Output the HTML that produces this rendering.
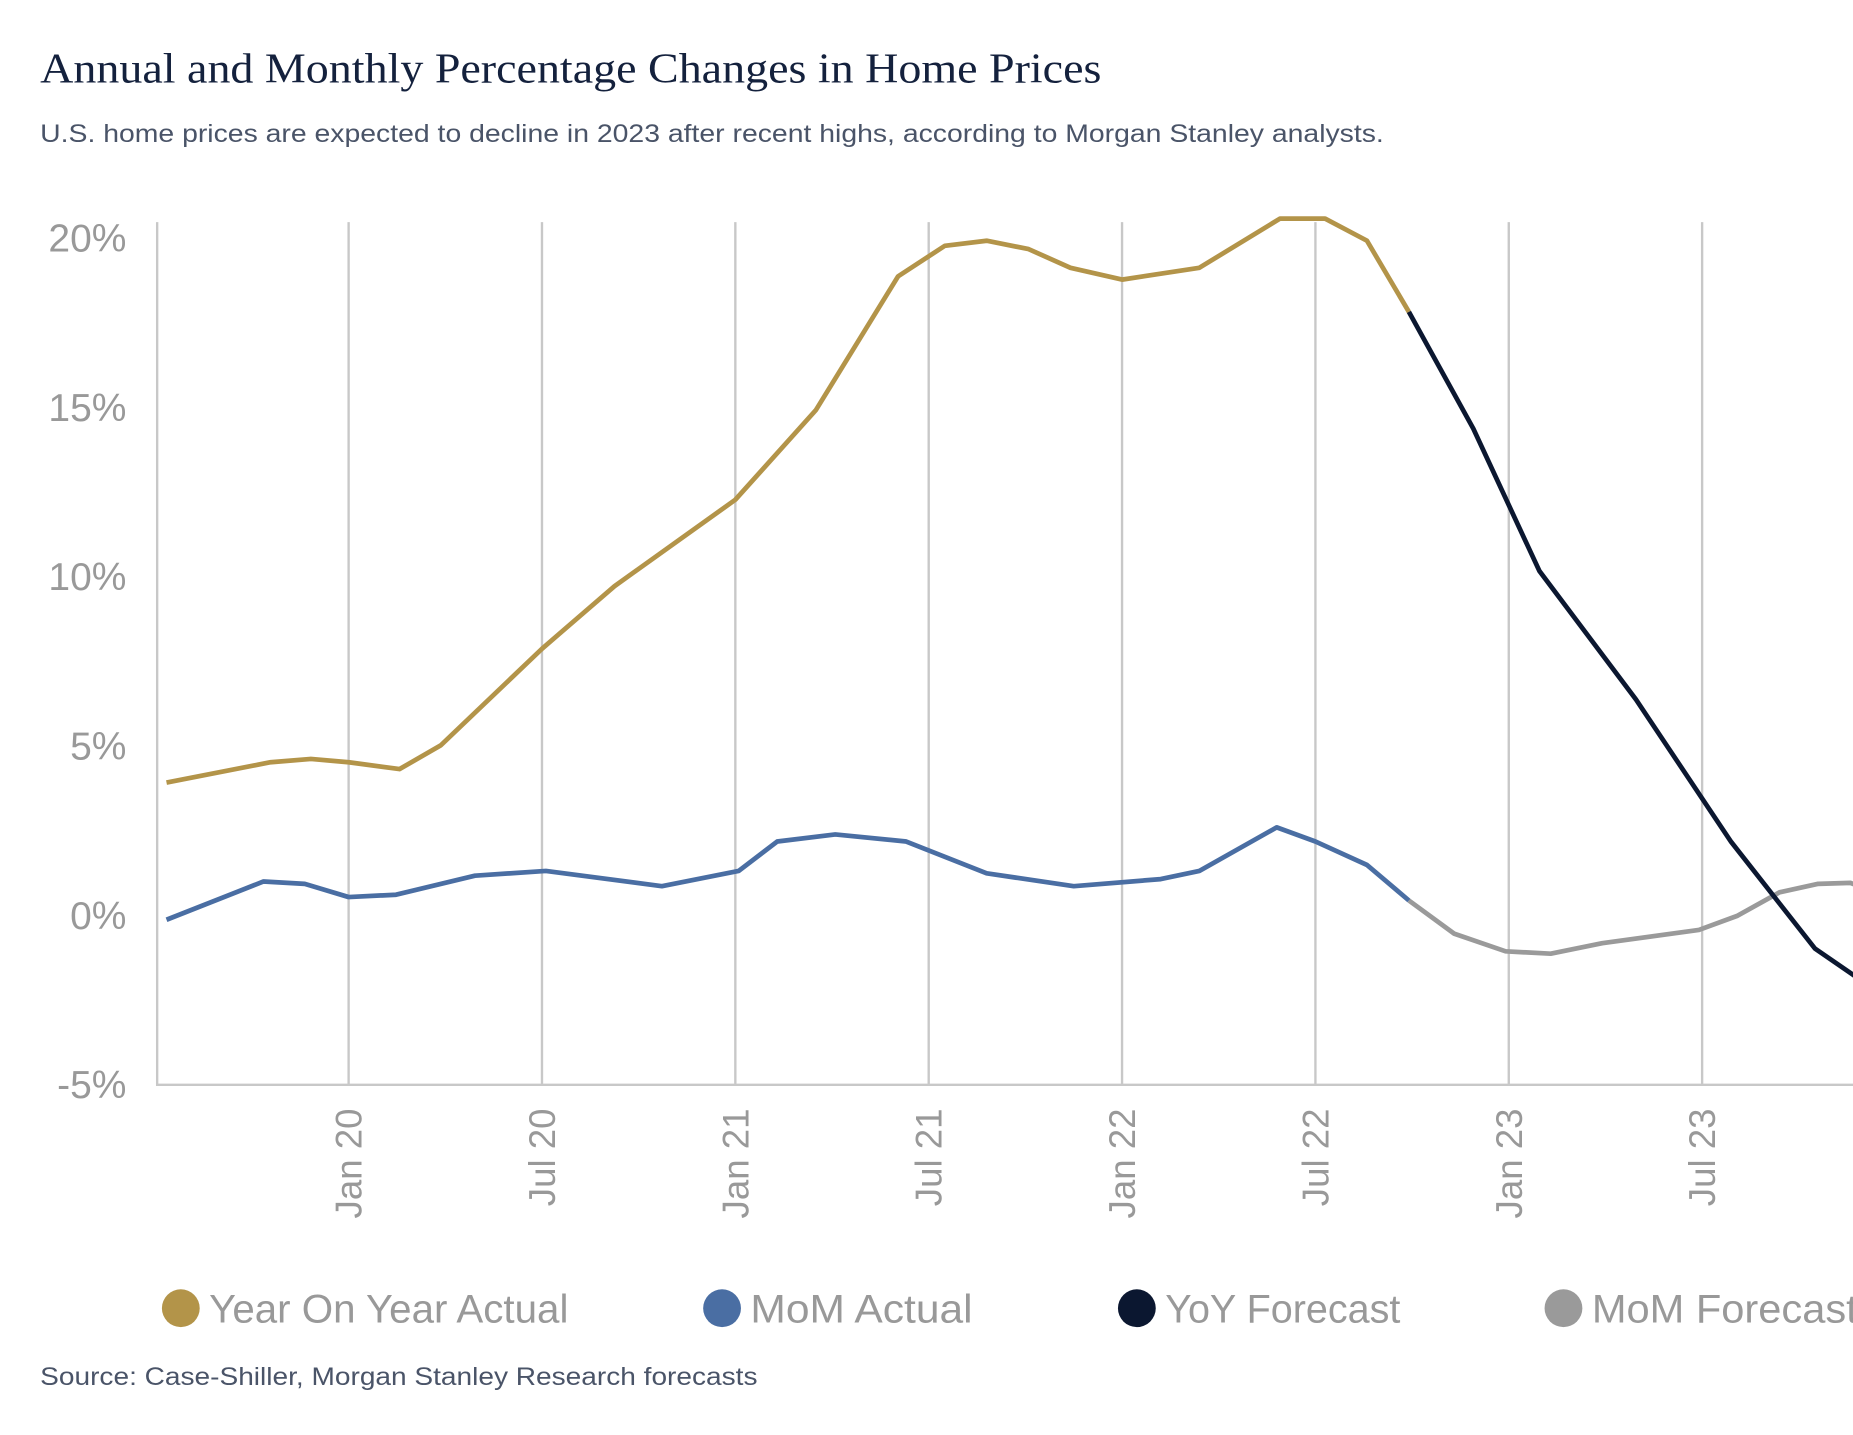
<!DOCTYPE html>
<html><head><meta charset="utf-8"><style>
html,body{margin:0;padding:0;background:#fff;overflow:hidden}
svg{display:block}
</style></head><body>
<svg id="chart" width="1853" height="1435" viewBox="0 0 1568 1214.3" preserveAspectRatio="none" xmlns="http://www.w3.org/2000/svg">
<text x="34" y="70" font-family="Liberation Serif, serif" font-size="36" fill="#14213d" textLength="898" lengthAdjust="spacingAndGlyphs">Annual and Monthly Percentage Changes in Home Prices</text>
<text x="34" y="120" font-family="Liberation Sans, sans-serif" font-size="21" fill="#4a5468" textLength="1137" lengthAdjust="spacingAndGlyphs">U.S. home prices are expected to decline in 2023 after recent highs, according to Morgan Stanley analysts.</text>
<g id="grid"></g><g id="series"></g><g id="axes"></g>
<g id="legend"></g>
<text x="34" y="1172" font-family="Liberation Sans, sans-serif" font-size="21" fill="#4a5468" textLength="607" lengthAdjust="spacingAndGlyphs">Source: Case-Shiller, Morgan Stanley Research forecasts</text>
</svg>
<script>
// months relative to Jan 2020
const yoyActualMonths=[-5.65,-2.42,-1.17,0,1.58,2.86,6,8.25,12,14.5,17.05,18.5,19.8,21.1,22.4,24,26.4,28.9,30.3,31.6,32.9];
const yoyActualValues=[3.9,4.5,4.6,4.5,4.3,5.0,7.85,9.7,12.25,14.9,18.85,19.75,19.9,19.65,19.1,18.75,19.1,20.55,20.55,19.9,17.8];
const yoyForecastMonths=[32.9,34.9,36.95,39.95,42.9,45.5,46.8];
const yoyForecastValues=[17.8,14.35,10.15,6.35,2.15,-1.0,-1.85];
const momActualMonths=[-5.65,-2.64,-1.36,0,1.47,3.92,6.12,9.72,12.1,13.3,15.1,17.3,19.8,22.5,25.2,26.4,28.8,30,31.6,32.9];
const momActualValues=[-0.15,0.98,0.91,0.52,0.59,1.15,1.29,0.84,1.29,2.16,2.37,2.16,1.22,0.84,1.05,1.29,2.58,2.16,1.47,0.42];
const momForecastMonths=[32.9,34.3,35.9,37.3,38.9,41.9,43.1,44.4,45.6,46.6,46.8];
const momForecastValues=[0.42,-0.56,-1.08,-1.15,-0.84,-0.45,-0.03,0.66,0.91,0.94,0.87];
const yTicks=[-5,0,5,10,15,20];
const yTickLabels=["-5%","0%","5%","10%","15%","20%"];
const xTickMonths=[0,6,12,18,24,30,36,42];
const xTickLabels=["Jan 20","Jul 20","Jan 21","Jul 21","Jan 22","Jul 22","Jan 23","Jul 23"];
const legendLabels=["Year On Year Actual","MoM Actual","YoY Forecast","MoM Forecast"];
const legendColors=["#b39449","#4a6ea3","#0b1730","#9a9a9a"];

const NS="http://www.w3.org/2000/svg";
const X0=133,X1=1568,Ybase=774,Yper=28.66;
function xs(m){return 295+m*27.27;}
function ys(v){return Ybase-v*Yper;}
function mk(tag,attrs,parent){const e=document.createElementNS(NS,tag);for(const k in attrs)e.setAttribute(k,attrs[k]);parent.appendChild(e);return e;}
const grid=document.getElementById('grid'),axes=document.getElementById('axes'),series=document.getElementById('series'),legend=document.getElementById('legend');
const defs=mk('defs',{},series);
const cp=mk('clipPath',{id:'plotclip'},defs);
mk('rect',{x:X0,y:150,width:X1-X0,height:800},cp);
xTickMonths.forEach((m,i)=>{
  const l=mk('line',{x1:xs(m),x2:xs(m),y1:188,y2:918,stroke:'#c8c8c8','stroke-width':2},grid);
  
  
  const t=mk('text',{x:0,y:0,transform:`translate(${xs(m)+11},${938}) rotate(-90)`,'text-anchor':'end','font-family':'Liberation Sans, sans-serif','font-size':31,fill:'#999'},axes);
  t.textContent=xTickLabels[i];
  
  
});
const ya=mk('line',{x1:X0,x2:X0,y1:188,y2:919,stroke:'#c8c8c8','stroke-width':2},axes);


const xa=mk('line',{x1:X0,x2:X1,y1:918,y2:918,stroke:'#c8c8c8','stroke-width':2},axes);


yTicks.forEach((v,i)=>{
  const t=mk('text',{x:107,y:ys(v)+12,'text-anchor':'end','font-family':'Liberation Sans, sans-serif','font-size':33,fill:'#999'},axes);
  t.textContent=yTickLabels[i];
  
  
});
function line(ms,vs,color,name){
  const d=ms.map((m,i)=>(i?'L':'M')+xs(m).toFixed(1)+','+ys(vs[i]).toFixed(1)).join(' ');
  const p=mk('path',{d:d,fill:'none',stroke:color,'stroke-width':4,'stroke-linejoin':'round','clip-path':'url(#plotclip)'},series);
  
  
}
line(momForecastMonths,momForecastValues,legendColors[3],'mom-forecast-line');
line(momActualMonths,momActualValues,legendColors[1],'mom-actual-line');
line(yoyActualMonths,yoyActualValues,legendColors[0],'yoy-actual-line');
line(yoyForecastMonths,yoyForecastValues,legendColors[2],'yoy-forecast-line');
const lx=[153,611,962,1323];
const lw=[304,188,199,225];
legendLabels.forEach((lab,i)=>{
  const g=mk('g',{},legend);
  
  
  mk('circle',{cx:lx[i],cy:1107,r:16,fill:legendColors[i]},g);
  const t=mk('text',{x:lx[i]+24,y:1119,'font-family':'Liberation Sans, sans-serif','font-size':34,fill:'#999',textLength:lw[i],lengthAdjust:'spacingAndGlyphs'},g);
  t.textContent=lab;
});
</script>
</body></html>
